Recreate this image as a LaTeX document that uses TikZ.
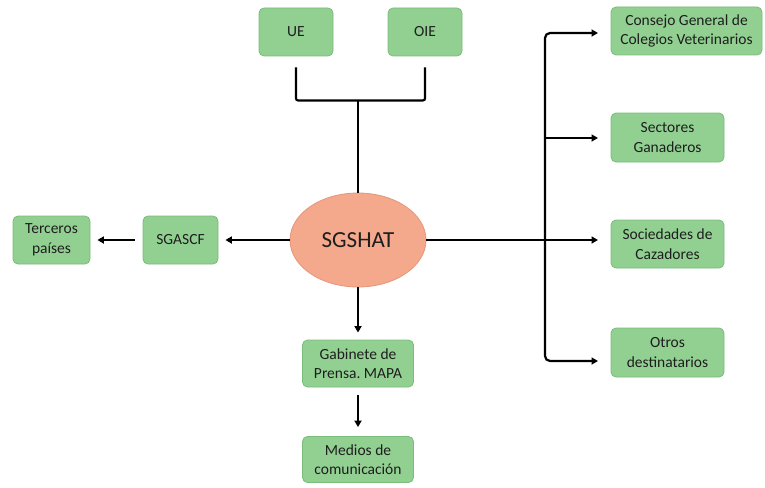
\documentclass[tikz,border=0pt]{standalone}
\usepackage{fontspec}
\setmainfont{Carlito}
\frenchspacing
\usetikzlibrary{arrows.meta,shapes.geometric}
\definecolor{boxfill}{RGB}{146,208,146}
\definecolor{boxline}{RGB}{122,188,122}
\definecolor{ellfill}{RGB}{244,168,140}
\definecolor{ellline}{RGB}{228,150,122}
\definecolor{txt}{RGB}{30,30,30}
\tikzset{
  gbox/.style={draw=boxline, line width=0.8pt, fill=boxfill, rounded corners=5pt, text=txt,
    align=center, inner sep=2pt, font=\fontsize{15.5}{19.5}\selectfont},
  conn/.style={line width=2.2pt, black},
  arr/.style={conn, -{Triangle[length=6.5pt,width=7pt]}},
}
\begin{document}
\begin{tikzpicture}[x=1pt,y=-1pt]
\useasboundingbox (0,0) rectangle (765,487);
% nodes
\node[gbox, minimum width=74pt, minimum height=48pt] (ue) at (296,32) {UE};
\node[gbox, minimum width=74pt, minimum height=48pt] (oie) at (425,32) {OIE};
\node[ellipse, draw=ellline, line width=0.8pt, fill=ellfill, minimum width=136pt, minimum height=94pt, text=txt,
  font=\fontsize{23}{27}\selectfont] (sg) at (358,240) {SGSHAT};
\node[gbox, minimum width=75pt, minimum height=48pt] (sgascf) at (180.5,240) {SGASCF};
\node[gbox, minimum width=77pt, minimum height=48pt] (terc) at (51.5,240) {Terceros\\países};
\node[gbox, minimum width=111pt, minimum height=47pt] (gab) at (358,363.5) {Gabinete de\\Prensa. MAPA};
\node[gbox, minimum width=111pt, minimum height=46pt] (med) at (358,459.5) {Medios de\\comunicación};
\node[gbox, minimum width=151pt, minimum height=48pt] (cons) at (686.5,31) {Consejo General de\\Colegios Veterinarios};
\node[gbox, minimum width=113pt, minimum height=49pt] (sect) at (667.5,137.5) {Sectores\\Ganaderos};
\node[gbox, minimum width=113pt, minimum height=48pt] (soc) at (667.5,244) {Sociedades de\\Cazadores};
\node[gbox, minimum width=113pt, minimum height=49pt] (otros) at (667.5,352.5) {Otros\\destinatarios};
% coordinates
\coordinate (mid) at (358,100);
\coordinate (a1) at (598,33);
\coordinate (a2) at (598,138);
\coordinate (a3) at (598,240);
\coordinate (a4) at (598,361);
\coordinate (tr1) at (545,33);
\coordinate (tr4) at (545,361);
% top bracket
\draw[conn, rounded corners=2pt, shorten <=11pt, shorten >=11pt]
  (ue.south) -- ++(0,44) -| (oie.south);
\draw[conn] (mid) -- (sg.north);
% left
\draw[arr, shorten >=7pt] (sg.west) -- (sgascf.east);
\draw[arr, shorten <=8pt, shorten >=7pt] (sgascf.west) -- (terc.east);
% bottom
\draw[arr, shorten >=7pt] (sg.south) -- (gab.north);
\draw[arr, shorten <=8pt, shorten >=9pt] (gab.south) -- (med.north);
% right
\draw[arr] (sg.east) -- (a3);
\draw[arr, rounded corners=5pt] (545,200) -- (tr1) -- (a1);
\draw[arr] (545,138) -- (a2);
\draw[arr, rounded corners=5pt] (545,200) -- (tr4) -- (a4);
\end{tikzpicture}
\end{document}
